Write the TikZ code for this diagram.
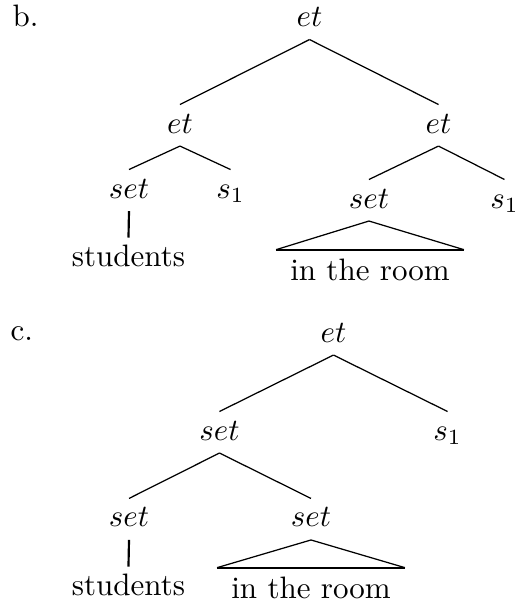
\documentclass[tikz,border=0pt]{standalone}
\usepackage{tikz}

\begin{document}
\begin{tikzpicture}[
    cat/.style={anchor=base, inner sep=2.6pt, text height=6.4pt, text depth=1.4pt},
    roof/.style={anchor=base, inner xsep=4.4pt, inner ysep=3.2pt, text height=6.4pt, text depth=1.4pt},
    itemno/.style={anchor=base west, inner sep=0pt},
    stem/.style={line width=0.7pt}
]
    \useasboundingbox (0,0) rectangle (5.873,6.827);

    % tree b.
    \node[itemno] (labb) at (0.136,6.521) {b.};
    \node[cat] (bTop) at (3.510,6.526) {$et$};
    \node[cat] (bL) at (2.041,5.318) {$et$};
    \node[cat] (bR) at (4.973,5.318) {$et$};
    \node[cat] (bLset) at (1.463,4.581) {$set$};
    \node[cat] (bLs) at (2.614,4.581) {$s_1$};
    \node[cat] (bRset) at (4.184,4.468) {$set$};
    \node[cat] (bRs) at (5.721,4.468) {$s_1$};
    \node[cat] (bStud) at (1.457,3.810) {students};
    \node[roof] (bRoom) at (4.196,3.651) {in the room};

    \draw (bTop.south) -- (bL.north);
    \draw (bTop.south) -- (bR.north);
    \draw (bL.south) -- (bLset.north);
    \draw (bL.south) -- (bLs.north);
    \draw (bR.south) -- (bRset.north);
    \draw (bR.south) -- (bRs.north);
    \draw[stem] (bLset.south) -- (bStud.north);
    \draw (bRoom.north west) -- (bRset.south) -- (bRoom.north east);
    \draw[stem] (bRoom.north west) -- (bRoom.north east);

    % tree c.
    \node[itemno] (labc) at (0.113,2.960) {c.};
    \node[cat] (cTop) at (3.782,2.948) {$et$};
    \node[cat] (cMid) at (2.489,1.837) {$set$};
    \node[cat] (cs) at (5.075,1.837) {$s_1$};
    \node[cat] (cLset) at (1.463,0.851) {$set$};
    \node[cat] (cRset) at (3.527,0.851) {$set$};
    \node[cat] (cStud) at (1.457,0.079) {students};
    \node[roof] (cRoom) at (3.527,0.045) {in the room};

    \draw (cTop.south) -- (cMid.north);
    \draw (cTop.south) -- (cs.north);
    \draw (cMid.south) -- (cLset.north);
    \draw (cMid.south) -- (cRset.north);
    \draw[stem] (cLset.south) -- (cStud.north);
    \draw (cRoom.north west) -- (cRset.south) -- (cRoom.north east);
    \draw[stem] (cRoom.north west) -- (cRoom.north east);
\end{tikzpicture}
\end{document}
